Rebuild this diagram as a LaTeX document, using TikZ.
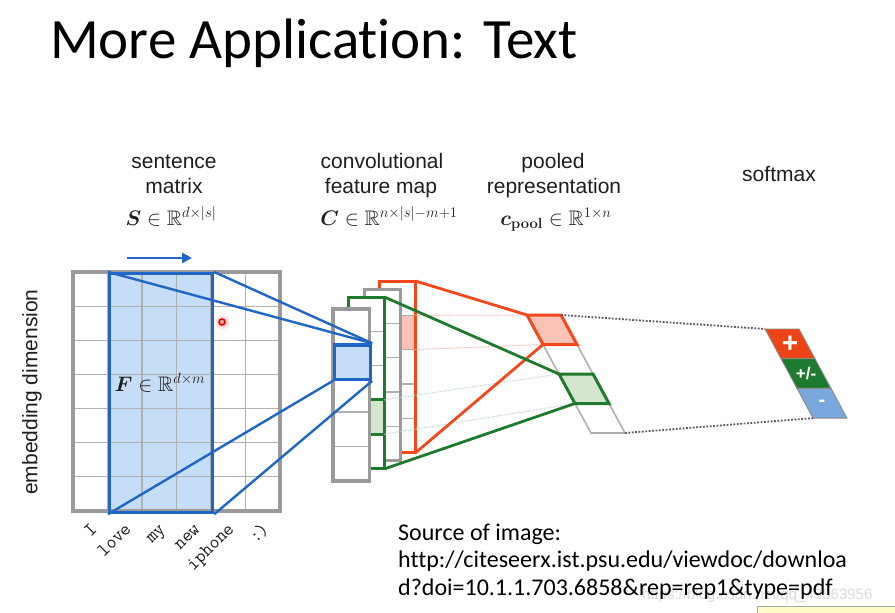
\documentclass[tikz,border=0pt]{standalone}
\usepackage{fix-cm}
\usepackage{amsmath,amssymb}
\usepackage[no-math]{fontspec}
\setmainfont{Liberation Sans}
\newfontfamily\carlito[Ligatures=NoCommon]{Carlito}
\usetikzlibrary{arrows.meta}
\definecolor{txt}{HTML}{1E1E1E}
\definecolor{mgray}{HTML}{9A9A9A}
\definecolor{cgray}{HTML}{B0B0B0}
\definecolor{mblue}{HTML}{1F66C6}
\definecolor{lblue}{HTML}{C6DDF7}
\definecolor{mred}{HTML}{F2481B}
\definecolor{lred}{HTML}{FAC3B6}
\definecolor{mgreen}{HTML}{1F7A2E}
\definecolor{lgreen}{HTML}{D3E6CD}
\definecolor{sred}{HTML}{EC4317}
\definecolor{sgreen}{HTML}{1D7A30}
\definecolor{sblue}{HTML}{7AA7DD}
\definecolor{dotc}{HTML}{5A5A5A}
\definecolor{fred}{HTML}{F5B5AA}
\definecolor{fgreen}{HTML}{C2D8D3}
\begin{document}
\begin{tikzpicture}[x=1pt,y=-1pt,
  lbl/.style={font=\fontsize{21}{25}\selectfont, text=txt, inner sep=0},
  mth/.style={font=\fontsize{21}{25}\selectfont, text=txt, inner sep=0},
  word/.style={font=\ttfamily\fontsize{19}{19}\selectfont, rotate=45, anchor=base east, inner sep=0, text=txt},
  src/.style={font=\carlito\fontsize{24}{28}\selectfont, text=black, inner sep=0, anchor=base west},
  colbox/.style={fill=white, inner sep=0, minimum width=36pt, minimum height=171.5pt, anchor=north west},
  grid/.style={cgray, line width=1.2pt},
  cellline/.style={cgray, line width=1.2pt},
  bline/.style={mblue, line width=2.4pt},
  rline/.style={mred, line width=2.8pt},
  gline/.style={mgreen, line width=2.8pt},
  fredline/.style={fred, line width=1pt, dash pattern=on 1.5pt off 1.2pt},
  fgreenline/.style={fgreen, line width=1pt, dash pattern=on 1.5pt off 1.2pt},
  darkdots/.style={dotc, line width=1.8pt, dash pattern=on 1.8pt off 1.6pt},
  poolline/.style={cgray, line width=1.6pt, line join=miter},
  smcell/.style={draw=black!45, line width=0.9pt, line join=miter},
  smlab/.style={text=white, font=\bfseries, inner sep=0}
]
\useasboundingbox (0,0) rectangle (895,613);
\fill[white] (0,0) rectangle (895,613);

% title
\node[anchor=base west, font=\carlito\fontsize{57}{60}\selectfont, text=black, inner sep=0] (title) at (50,58) {More Application: Text};

% top labels
\node[lbl, anchor=base] (l1a) at (174,168) {sentence};
\node[lbl, anchor=base] (l1b) at (174,193) {matrix};
\node[mth, anchor=base] (l1c) at (171,225) {$\boldsymbol{S}\in\mathbb{R}^{d\times|s|}$};
\node[lbl, anchor=base] (l2a) at (382,168) {convolutional};
\node[lbl, anchor=base] (l2b) at (381,193) {feature map};
\node[mth, anchor=base] (l2c) at (389,225) {$\boldsymbol{C}\in\mathbb{R}^{n\times|s|-m+1}$};
\node[lbl, anchor=base] (l3a) at (553,168) {pooled};
\node[lbl, anchor=base] (l3b) at (554,193) {representation};
\node[mth, anchor=base] (l3c) at (556,225) {$\boldsymbol{c}_{\mathbf{pool}}\in\mathbb{R}^{1\times n}$};
\node[lbl, anchor=base] (l4) at (779,181) {softmax};
\node[lbl, rotate=90] (emb) at (32,392) {embedding dimension};

% sentence matrix
\node[inner sep=0, minimum width=207pt, minimum height=239pt, anchor=north west] (smat) at (73,272) {};
\fill[lblue] (108,272) rectangle (211,511);
\foreach \k in {1,...,5} \draw[grid] ({73+34.5*\k},272) -- ({73+34.5*\k},511);
\foreach \k in {1,...,6} \draw[grid] (73,{272+34.14*\k}) -- (280,{272+34.14*\k});
\draw[mgray, line width=4pt] (smat.north west) rectangle (smat.south east);
\node[draw=mblue, line width=3.2pt, inner sep=0, minimum width=103pt, minimum height=239pt, anchor=north west] (filt) at (108,272) {};
\node[mth] (flab) at (160,383) {$\boldsymbol{F}\in\mathbb{R}^{d\times m}$};
\coordinate (a1) at (127,258);
\coordinate (a2) at (192,258);
\draw[mblue, line width=2.5pt, -{Triangle[length=10pt,width=10pt]}] (a1) -- (a2);

% pointer dot
\shade[inner color=red!40, outer color=white] (222,322) circle (8);
\draw[red!90!black, line width=1.5pt] (222,322) circle (3);

% words
\node[word] (w1) at (98,530) {I};
\node[word] (w2) at (132,530) {love};
\node[word] (w3) at (166,530) {my};
\node[word] (w4) at (201,530) {new};
\node[word] (w5) at (235,530) {iphone};
\node[word] (w6) at (270,530) {:)};

% feature map columns (back to front)
\node[colbox] (rcol) at (379,281) {};
\fill[lred] (379,315.3) rectangle (415,349.6);
\foreach \k in {1,...,4} \draw[cellline] (379,{281+34.3*\k}) -- (415,{281+34.3*\k});
\draw[mred, line width=3pt] (rcol.north west) rectangle (rcol.south east);

\node[colbox] (gcol) at (364,289) {};
\foreach \k in {1,...,4} \draw[cellline] (364,{289+34.3*\k}) -- (400,{289+34.3*\k});
\draw[mgray, line width=3pt] (gcol.north west) rectangle (gcol.south east);

\node[colbox] (grcol) at (348,297) {};
\fill[lgreen] (348,399.9) rectangle (384,434.2);
\foreach \k in {1,...,4} \draw[cellline] (348,{297+34.3*\k}) -- (384,{297+34.3*\k});
\draw[mgreen, line width=3pt] (348,399.9) -- (384,399.9) (348,434.2) -- (384,434.2);
\draw[mgreen, line width=3pt] (grcol.north west) rectangle (grcol.south east);

\node[colbox] (fcol) at (333,309) {};
\foreach \k in {1,...,4} \draw[cellline] (333,{309+34.3*\k}) -- (369,{309+34.3*\k});
\draw[mgray, line width=3.5pt] (fcol.north west) rectangle (fcol.south east);
\node[fill=lblue, draw=mblue, line width=3.2pt, inner sep=0, minimum width=36pt, minimum height=34.3pt, anchor=north west] (bsq) at (333,343.3) {};

% blue connectors
\draw[bline] (filt.north west) -- (bsq.north east);
\draw[bline] (filt.north east) -- (bsq.north east);
\draw[bline] (filt.south west) -- (bsq.south west);
\draw[bline] (filt.south east) -- (bsq.south east);

% pooled representation
\foreach \k in {0,...,4} {
  \coordinate (p\k) at ({527+16*\k},{315+29.5*\k});
  \coordinate (q\k) at ({561+16*\k},{315+29.5*\k});
}
\coordinate (rc1) at (415,315.3);
\coordinate (rc2) at (415,349.6);
\coordinate (gc1) at (384,399.9);
\coordinate (gc2) at (384,434.2);
\draw[fredline] (rc1) -- (p0);
\draw[fredline] (rc2) -- (p1);
\draw[fgreenline] (gc1) -- (p2);
\draw[fgreenline] (gc2) -- (p3);

\draw[poolline] (p0) -- (q0) -- (q4) -- (p4) -- cycle;
\draw[poolline] (p1) -- (q1) (p2) -- (q2) (p3) -- (q3);
\filldraw[fill=lred, draw=mred, line width=3pt, line join=miter] (p0) -- (q0) -- (q1) -- (p1) -- cycle;
\filldraw[fill=lgreen, draw=mgreen, line width=3pt, line join=miter] (p2) -- (q2) -- (q3) -- (p3) -- cycle;

% red and green connectors
\draw[rline] (rcol.north east) -- (p0);
\draw[rline] (rcol.south east) -- (p1);
\draw[gline] (grcol.north east) -- (p2);
\draw[gline] (grcol.south east) -- (p3);

% softmax
\foreach \k in {0,...,3} {
  \coordinate (s\k) at ({765+16*\k},{329+29.7*\k});
  \coordinate (t\k) at ({799+16*\k},{329+29.7*\k});
}
\filldraw[smcell, fill=sred] (s0) -- (t0) -- (t1) -- (s1) -- cycle;
\filldraw[smcell, fill=sgreen] (s1) -- (t1) -- (t2) -- (s2) -- cycle;
\filldraw[smcell, fill=sblue] (s2) -- (t2) -- (t3) -- (s3) -- cycle;
\node[smlab, font=\bfseries\fontsize{28}{28}\selectfont] (sm1) at (790,344) {+};
\node[smlab, font=\bfseries\fontsize{17}{17}\selectfont] (sm2) at (806,374) {+/-};
\node[smlab, font=\bfseries\fontsize{20}{20}\selectfont] (sm3) at (822,403) {-};

\draw[darkdots] (q0) -- (s0);
\draw[darkdots] (q4) -- (s3);

% watermark and source
\node[anchor=base west, font=\fontsize{15}{15}\selectfont, text=black!14, inner sep=0] (wm) at (642,599) {https://blog.csdn.net/qq\_43563956};
\node[src] (src1) at (398,540) {Source of image:};
\node[src] (src2) at (398,567) {http://citeseerx.ist.psu.edu/viewdoc/downloa};
\node[src] (src3) at (398,595) {d?doi=10.1.1.703.6858\&rep=rep1\&type=pdf};
\filldraw[fill=yellow!22, draw=black!35, line width=0.8pt] (757,606) rectangle (900,616);
\end{tikzpicture}
\end{document}
